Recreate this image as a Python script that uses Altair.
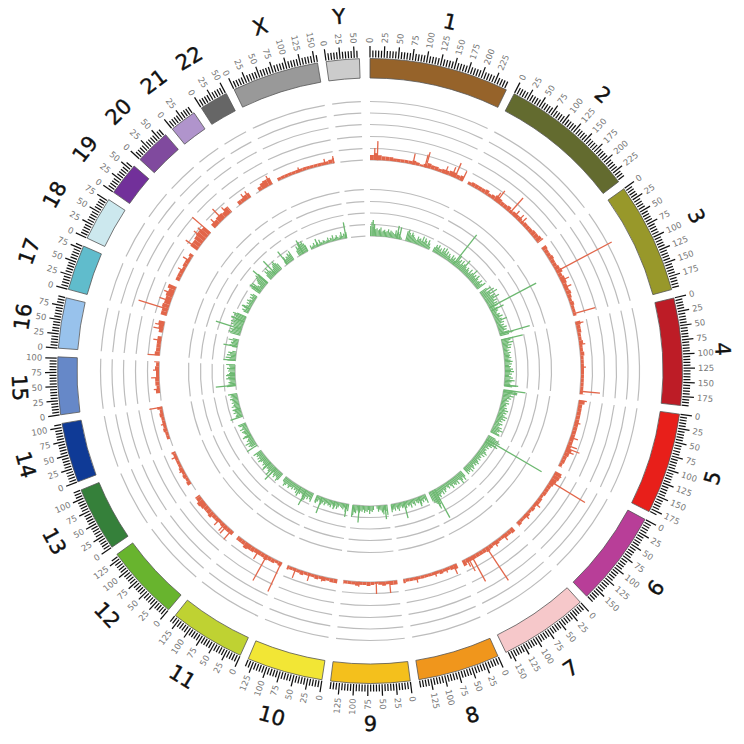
import math
import altair as alt
import pandas as pd

alt.data_transformers.disable_max_rows()

names = ["1","2","3","4","5","6","7","8","9","10","11","12","13","14","15","16","17","18","19","20","21","22","X","Y"]
sizes = [249,243,198,191,181,171,159,146,141,135.5,135,134,115,107,102.5,90,81,78,59,63,48,51,155,59]
colors = ["#96632a","#636b2f","#98982a","#bd1c26","#e81f1a","#b83e98","#f6c8ca","#f0961c","#f4c01c","#f2e635",
          "#bfd232","#68b42e","#35803a","#0f3a96","#6688c8","#98c2ec","#60bccc","#cce8ee","#72309a","#804a9e",
          "#b094cc","#666666","#999999","#cccccc"]

# green track: bar height (px) per 5 Mb bin
green = {
"1":[10,14,9,12,7,8,6,7,9,5,6,7,5,6,8,5,7,6,5,4,8,5,7,5,3,2,0,0,0,10,12,9,7,10,8,6,5,4,8,6,7,5,10,5,9,7,4,9,6,3],
"2":[5,8,6,9,5,7,4,9,6,10,5,8,4,7,5,3,8,5,7,4,6,12,7,9,5,10,6,8,14,7,5,8,6,4,9,5,7,12,6,8,5,10,7,5,6,9,5,7,10],
"3":[8,12,6,14,9,16,7,12,10,15,8,11,7,10,6,9,5,8,6,7,5,4,7,6,9,5,7,12,6,8,4,7,5,9,6,8,5,10,14,9],
"4":[12,9,7,11,6,9,5,8,4,6,4,7,5,6,5,7,4,6,8,5,7,4,6,5,8,6,9,5,7,4,6,8,5,10,7,5,6,12,8],
"5":[12,9,14,8,11,7,9,5,7,4,8,5,6,4,7,5,9,6,8,5,7,10,6,9,5,7,4,8,6,5,9,7,11,8,6,9,10],
"6":[8,12,14,10,9,12,7,9,5,7,4,6,5,7,9,5,8,4,6,5,7,4,6,8,5,7,4,6,8,5,9,6,7,5,8],
"7":[7,10,6,8,11,6,5,9,6,8,7,5,9,6,4,7,5,4,6,8,5,9,6,7,10,8,12,16,18,14,12,10],
"8":[9,6,4,7,5,8,4,6,5,3,7,5,4,8,5,6,4,7,3,5,6,4,5,8,6,4,7,5,6,8],
"9":[10,6,5,9,7,5,4,6,3,0,0,4,6,5,8,4,6,5,7,4,6,5,7,6,5,8,7,10,12],
"10":[7,5,8,4,6,5,4,3,5,7,4,6,5,4,7,5,6,4,5,7,4,6,8,5,4,6,8,7],
"11":[9,7,5,8,6,10,12,8,6,5,7,6,5,8,5,6,4,7,5,6,8,6,5,7,9,6,5],
"12":[8,10,7,6,9,7,5,9,6,12,8,6,7,5,9,6,8,6,5,7,9,6,8,5,7,6,9],
"13":[0,0,0,6,8,6,10,5,7,5,4,6,7,4,5,6,7,4,8,5,4,7,8],
"14":[0,0,0,7,6,5,8,6,7,4,5,8,6,5,7,5,6,8,5,7,6,9],
"15":[0,0,0,9,8,6,7,5,6,9,7,5,8,6,5,7,6,8,5,6,9],
"16":[8,6,10,5,9,6,8,4,0,0,0,5,8,6,7,5,10,6],
"17":[10,12,9,11,8,6,9,12,10,13,11,9,14,10,12,14,10],
"18":[5,7,4,6,8,5,3,6,4,7,5,3,6,4,7,5],
"19":[10,13,9,12,6,4,8,10,12,14,11,13],
"20":[6,10,8,12,7,5,4,6,8,10,12,9,7],
"21":[0,0,4,8,5,7,6,9,7,10],
"22":[0,0,6,10,8,11,13,10,12,9,7],
"X":[4,2,3,5,2,3,4,2,6,3,2,4,3,2,3,5,2,4,3,6,2,3,5,3,2,4,7,3,5,4,6],
"Y":[],
}
# red track: bar height (px) per 10 Mb bin
red = {
"1":[5,7,5,4,4,4,3,3,3,3,3,4,3,2,3,5,4,4,3,4,4,5,5,4,5],
"2":[3,4,4,4,4,5,3,4,6,5,4,4,5,3,4,4,4,3,4,4,4,5,5,6,7],
"3":[5,4,4,5,4,4,5,6,4,5,5,4,4,5,4,3,4,3,3,3],
"4":[5,4,4,3,3,4,3,3,4,3,3,3,3,3,3,3,3,3,3,5],
"5":[6,4,4,4,4,4,4,4,4,4,4,4,4,6,5,4,4,3,4],
"6":[7,7,6,5,4,4,4,3,4,4,3,4,3,4,3,3,4,5],
"7":[5,4,4,3,3,4,3,4,5,4,4,4,4,4,4,6],
"8":[5,4,3,3,4,3,3,3,3,3,3,3,3,3,4],
"9":[4,4,3,4,3,2,3,4,3,3,4,3,3,3,4],
"10":[4,4,3,4,3,4,3,3,3,4,3,3,3,4],
"11":[4,3,4,4,5,4,4,4,5,5,6,4,4,4],
"12":[4,4,4,4,3,4,4,6,5,5,6,7,5,5],
"13":[0,0,4,3,4,3,4,3,3,3,3,4],
"14":[0,0,3,3,4,3,3,3,4,3,5],
"15":[0,0,4,3,4,4,3,3,4,3,5],
"16":[5,4,4,4,4,0,4,5,6],
"17":[6,6,7,6,6,7,6,8],
"18":[4,4,4,3,4,4,3,4],
"19":[8,8,9,10,10,9],
"20":[5,5,6,6,5,7,7],
"21":[0,4,4,5,5],
"22":[0,4,6,7,7],
"X":[3,3,3,3,3,3,3,3,3,3,3,3,3,3,4,5],
"Y":[],
}
# isolated spikes: (chromosome, Mb, height px)
red_spikes = [("1",19,19),("1",12,12),("1",113,11),("1",145,13),("1",148,16),("1",201,8),("1",228,16),("1",249,11),("1",220,10),
 ("2",90,14),("2",85,10),("2",135,20),("2",150,8),("2",165,8),("2",175,8),("3",73,63),("3",100,9),("3",120,8),("3",192,23),
 ("4",5,8),("4",60,6),("4",120,5),("4",183,20),("5",1,8),("5",60,6),("5",100,8),("5",130,14),("5",122,10),("5",138,9),
 ("6",30,41),("6",8,8),("6",100,7),("6",140,6),("7",85,40),("7",130,29),("7",140,15),("7",30,7),("7",60,6),("7",145,9),
 ("8",8,10),("8",30,5),("8",60,5),("8",110,6),("9",20,12),("9",55,12),("9",100,5),("10",113,10),("10",75,8),("10",40,5),
 ("11",3,32),("11",45,29),("11",70,10),("11",100,6),("12",8,12),("12",25,10),("12",50,8),("12",32,9),("12",110,6),("13",100,6),("13",60,5),
 ("14",105,13),("14",60,5),("15",30,6),("15",60,8),("15",80,6),("16",1,12),("16",40,8),("16",70,10),("16",80,9),
 ("17",18,31),("17",40,12),("17",60,10),("18",30,7),("18",60,8),("19",5,15),("19",58,24),("19",35,14),("19",47,13),
 ("20",31,15),("20",10,9),("20",50,10),("21",30,8),("21",42,8),("22",30,7),("22",44,10),("X",60,5),("X",130,6),("X",153,7)]
green_spikes = [("1",12,16),("1",110,13),("1",120,12),("2",102,38),("3",75,53),("3",191,31),("3",90,14),("4",2,22),("4",187,14),
 ("5",1,22),("5",8,14),("6",20,64),("6",30,14),("7",132,32),("7",142,20),("8",93,17),("8",30,10),("9",10,14),("9",115,17),
 ("10",10,13),("10",115,17),("10",60,8),("11",35,17),("11",60,10),("12",38,16),("12",70,11),("13",10,12),("13",60,9),("14",12,13),("14",45,8),
 ("15",20,20),("15",60,9),("16",3,12),("16",60,14),("17",27,27),("17",60,14),("18",20,9),("19",55,19),("19",10,12),("20",31,18),("21",15,16),("22",30,15),("X",150,16),("X",30,8)]

rings_red = [269.5,258,246.5,234.5,222.5,211]
rings_green = [181.5,169.5,158,146.5,135]
tick_major = 25
tick_minor = 5
label_radius = {"Y":354.5, "15":352, "16":350, "9":354, "4":352, "14":358, "1":357}

# layout
K = 0.1039
GAP = 1.6
START = 0.0
CX, CY = 362, 363
R_RED, R_GREEN = 211, 135

starts = {}
pos = START
for n, s in zip(names, sizes):
    starts[n] = pos
    pos += s * K + GAP
size = dict(zip(names, sizes))
rad = math.radians
ang = lambda c, mb: starts[c] + mb * K

bands, rings, ticks, tlabels, clabels, bars, spikes = [], [], [], [], [], [], []
def add_spike(c, mb, base, h, col, w):
    a = rad(ang(c, min(mb, size[c])))
    spikes.append(dict(x=base*math.sin(a), y=base*math.cos(a), x2=(base+h)*math.sin(a), y2=(base+h)*math.cos(a), c=col, w=w))

for n, s, col in zip(names, sizes, colors):
    a0, a1 = ang(n, 0), ang(n, s)
    bands.append(dict(t0=rad(a0), t1=rad(a1), r0=293, r1=312.5, c=col))
    for r in rings_red + rings_green:
        rings.append(dict(t0=rad(a0), t1=rad(a1), r0=r - 0.6, r1=r + 0.6))
    mb = 0
    while mb <= s:
        a = ang(n, mb)
        major = mb % tick_major == 0
        r1 = 325 if major else 320.5
        sa, ca = math.sin(rad(a)), math.cos(rad(a))
        ticks.append(dict(x=313.5*sa, y=313.5*ca, x2=r1*sa, y2=r1*ca))
        if major:
            r = 328
            right = a < 180
            tlabels.append(dict(x=r*sa, y=r*ca, t=str(mb), a=(a-90) % 360 if right else (a+90) % 360, right=right))
        mb += tick_minor
    m = ang(n, s/2)
    rot = m if (m < 90 or m > 270) else m + 180
    lr = label_radius.get(n, 360)
    clabels.append(dict(x=lr*math.sin(rad(m)), y=lr*math.cos(rad(m)), t=n, a=rot % 360))
    for i, h in enumerate(red[n]):
        if h > 0:
            bars.append(dict(t0=rad(ang(n, i*10)), t1=rad(ang(n, min(i*10+10, s))), r0=R_RED, r1=R_RED+h))
    for i, h in enumerate(green[n]):
        if h > 0:
            add_spike(n, i*5+2.5, R_GREEN, h, "#6cb870", 1.2)
for c, mb, h in red_spikes:
    add_spike(c, mb, R_RED, h, "#e2664a", 1.3)
for c, mb, h in green_spikes:
    add_spike(c, mb, R_GREEN, h, "#6cb870", 1.3)

X = alt.X("x:Q", scale=alt.Scale(domain=[-CX, CX]), axis=None)
Y = alt.Y("y:Q", scale=alt.Scale(domain=[-CY, CY]), axis=None)
TH = dict(theta=alt.Theta("t0:Q", scale=None), theta2=alt.Theta2("t1:Q"),
          radius=alt.Radius("r1:Q", scale=None), radius2=alt.Radius2("r0:Q"))

band = alt.Chart(pd.DataFrame(bands)).mark_arc(stroke="#555555", strokeWidth=0.8).encode(
    color=alt.Color("c:N", scale=None), **TH)
ring = alt.Chart(pd.DataFrame(rings)).mark_arc(color="#bcbcbc").encode(**TH)
redbar = alt.Chart(pd.DataFrame(bars)).mark_arc(color="#e2664a").encode(**TH)
spike = alt.Chart(pd.DataFrame(spikes)).mark_rule().encode(
    x=X, y=Y, x2="x2:Q", y2="y2:Q",
    color=alt.Color("c:N", scale=None), strokeWidth=alt.StrokeWidth("w:Q", scale=None))
tick = alt.Chart(pd.DataFrame(ticks)).mark_rule(color="#111111", strokeWidth=1.25).encode(x=X, y=Y, x2="x2:Q", y2="y2:Q")
tl = pd.DataFrame(tlabels)
common = dict(x=X, y=Y, text="t:N", angle=alt.Angle("a:Q", scale=None))
tr = alt.Chart(tl[tl.right]).mark_text(align="left", baseline="middle", fontSize=8.5, color="#777777", font="DejaVu Sans").encode(**common)
tL = alt.Chart(tl[~tl.right]).mark_text(align="right", baseline="middle", fontSize=8.5, color="#777777", font="DejaVu Sans").encode(**common)
cl = alt.Chart(pd.DataFrame(clabels)).mark_text(align="center", baseline="middle", fontSize=21, color="#111111", font="DejaVu Sans", stroke="#111111", strokeWidth=0.4).encode(**common)

chart = alt.layer(band, ring, redbar, spike, tick, tr, tL, cl).properties(
    width=2*CX, height=2*CY,
    padding={"left": 0, "top": 0, "right": 4, "bottom": 1},
    autosize=alt.AutoSizeParams(type="none")
).configure_view(stroke=None)
chart.save("out.html", embed_options={"renderer": "svg", "actions": False})
